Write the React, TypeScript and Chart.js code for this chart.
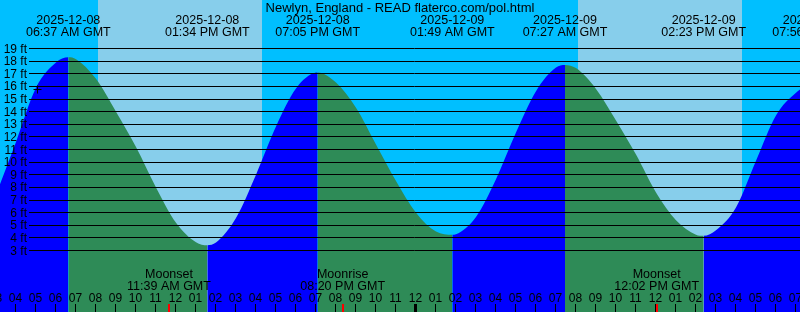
import React, { useEffect, useRef } from "react";
import { Chart, registerables } from "chart.js";

Chart.register(...registerables);

// ---- Data (hours since 2025-12-08 00:00 GMT) ----
const tideHours = [3, 4, 5, 6, 6.617, 7, 8, 9, 10, 11, 12, 13, 13.567, 14, 15, 16, 17, 18, 19, 19.083, 20, 21, 22, 23, 24, 25, 25.817, 26, 27, 28, 29, 30, 31, 31.45, 32, 33, 34, 35, 36, 37, 38, 38.383, 39, 40, 41, 42, 43, 43.933];
const tideFeet = [7.4, 11.6, 15.9, 17.9, 18.3, 18.15, 16.6, 14.0, 11.2, 8.0, 5.2, 3.66, 3.42, 3.63, 5.57, 9.0, 12.82, 15.83, 17.09, 17.1, 16.3, 14.3, 11.4, 8.5, 6.0, 4.5, 4.24, 4.28, 5.65, 8.64, 12.34, 15.62, 17.49, 17.7, 17.45, 15.8, 13.3, 10.6, 7.6, 5.4, 4.25, 4.16, 4.6, 6.4, 10.1, 13.7, 15.5, 16.4];

const extremeHours = [6.617, 13.567, 19.083, 25.817, 31.45, 38.383, 43.933];
const extremeDates = ["2025-12-08", "2025-12-08", "2025-12-08", "2025-12-09", "2025-12-09", "2025-12-09", "2025-12-09"];
const extremeTimes = ["06:37 AM GMT", "01:34 PM GMT", "07:05 PM GMT", "01:49 AM GMT", "07:27 AM GMT", "02:23 PM GMT", "07:56 PM GMT"];

const moonHours = [11.65, 20.333, 36.033];
const moonNames = ["Moonset", "Moonrise", "Moonset"];
const moonTimes = ["11:39 AM GMT", "08:20 PM GMT", "12:02 PM GMT"];

const sunriseHours = [8.1, 32.1];
const sunsetHours = [16.3, 40.3];

const hourTicks = [3, 4, 5, 6, 7, 8, 9, 10, 11, 12, 13, 14, 15, 16, 17, 18, 19, 20, 21, 22, 23, 24, 25, 26, 27, 28, 29, 30, 31, 32, 33, 34, 35, 36, 37, 38, 39, 40, 41, 42, 43, 44];
const hourLabels = ["03", "04", "05", "06", "07", "08", "09", "10", "11", "12", "01", "02", "03", "04", "05", "06", "07", "08", "09", "10", "11", "12", "01", "02", "03", "04", "05", "06", "07", "08", "09", "10", "11", "12", "01", "02", "03", "04", "05", "06", "07", "08"];

const gridFeet = [3, 4, 5, 6, 7, 8, 9, 10, 11, 12, 13, 14, 15, 16, 17, 18, 19];

const nowHour = [5.075];
const nowFeet = [15.75];

const TITLE = "Newlyn, England - READ flaterco.com/pol.html";

// ---- Styles ----
const NIGHT = "#00bfff";
const DAY = "#87ceeb";
const RISE = "#0000ff";
const FALL = "#2e8b57";
const FONT = '"Liberation Sans", Arial, sans-serif';

const decorPlugin = {
  id: "tideDecor",
  beforeDatasetsDraw(chart: any) {
    const { ctx, chartArea: a, scales } = chart;
    const x = scales.x;
    ctx.save();
    ctx.fillStyle = NIGHT;
    ctx.fillRect(a.left, a.top, a.right - a.left, a.bottom - a.top);
    ctx.fillStyle = DAY;
    sunriseHours.forEach((h, i) => {
      const x0 = Math.round(x.getPixelForValue(h));
      const x1 = Math.round(x.getPixelForValue(sunsetHours[i]));
      ctx.fillRect(x0, a.top, x1 - x0, a.bottom - a.top);
    });
    ctx.restore();
  },
  afterDatasetsDraw(chart: any) {
    const { ctx, chartArea: a, scales } = chart;
    const x = scales.x;
    const y = scales.y;
    ctx.save();
    // horizontal foot lines
    ctx.strokeStyle = "#000";
    ctx.lineWidth = 1;
    ctx.beginPath();
    gridFeet.forEach((f) => {
      const py = Math.round(y.getPixelForValue(f) - 0.5) + 0.5;
      ctx.moveTo(29, py);
      ctx.lineTo(a.right, py);
    });
    ctx.stroke();

    ctx.fillStyle = "#000";
    ctx.textBaseline = "alphabetic";
    // foot labels
    ctx.font = `12px ${FONT}`;
    ctx.textAlign = "right";
    gridFeet.forEach((f) => {
      ctx.fillText(`${f} ft`, 27, Math.round(y.getPixelForValue(f)) + 4);
    });

    // title
    ctx.textAlign = "center";
    ctx.font = `13px ${FONT}`;
    ctx.fillText(TITLE, (a.left + a.right) / 2, 12);

    // high / low labels
    ctx.font = `12.5px ${FONT}`;
    extremeHours.forEach((h, i) => {
      const px = x.getPixelForValue(h);
      ctx.fillText(extremeDates[i], px, 24);
      ctx.fillText(extremeTimes[i], px, 36);
    });

    // moon labels
    moonHours.forEach((h, i) => {
      const px = x.getPixelForValue(h);
      ctx.fillText(moonNames[i], px, 278);
      ctx.fillText(moonTimes[i], px, 290);
    });

    // hour ticks & labels
    ctx.font = `12px ${FONT}`;
    hourTicks.forEach((h, i) => {
      const px = x.getPixelForValue(h);
      const col = Math.round(px);
      if (h % 24 === 0) ctx.fillRect(col - 2, 304, 3, 8);
      else ctx.fillRect(col - 1, 304, 1, 8);
      ctx.fillText(hourLabels[i], px - 0.5, 302);
    });

    // moon ticks
    ctx.fillStyle = "#ff0000";
    moonHours.forEach((h) => {
      const col = Math.round(x.getPixelForValue(h));
      ctx.fillRect(col - 1, 304, 2, 8);
    });
    ctx.restore();
  },
};

export default function App() {
  const ref = useRef<HTMLCanvasElement | null>(null);
  useEffect(() => {
    document.body.style.margin = "0";
    const canvas = ref.current;
    if (!canvas) return;
    const chart = new Chart(canvas, {
      type: "line",
      data: {
        datasets: [
          {
            label: "now",
            data: nowHour.map((h, i) => ({ x: h, y: nowFeet[i] })),
            showLine: false,
            pointStyle: "cross",
            pointRadius: 4,
            pointBorderColor: "#000",
            pointBorderWidth: 1,
            fill: false,
          },
          {
            label: "tide",
            data: tideHours.map((h, i) => ({ x: h, y: tideFeet[i] })),
            borderColor: "rgba(0,0,0,0)",
            borderWidth: 1,
            backgroundColor: RISE,
            pointRadius: 0,
            cubicInterpolationMode: "monotone",
            fill: "start",
            segment: {
              backgroundColor: (c: any) => (c.p1.parsed.y >= c.p0.parsed.y ? RISE : FALL),
            },
          },
        ],
      },
      options: {
        responsive: false,
        maintainAspectRatio: false,
        animation: false,
        events: [],
        layout: { padding: 0, autoPadding: false },
        plugins: { legend: { display: false }, tooltip: { enabled: false } },
        scales: {
          x: { type: "linear", display: false, min: 3.2, max: 43.2 },
          y: { type: "linear", display: false, min: -1.871, max: 22.842 },
        },
      },
      plugins: [decorPlugin],
    } as any);
    return () => chart.destroy();
  }, []);
  return (
    <div style={{ position: "absolute", left: 0, top: 0, width: 800, height: 312 }}>
      <canvas ref={ref} width={800} height={312} style={{ display: "block" }} />
    </div>
  );
}
